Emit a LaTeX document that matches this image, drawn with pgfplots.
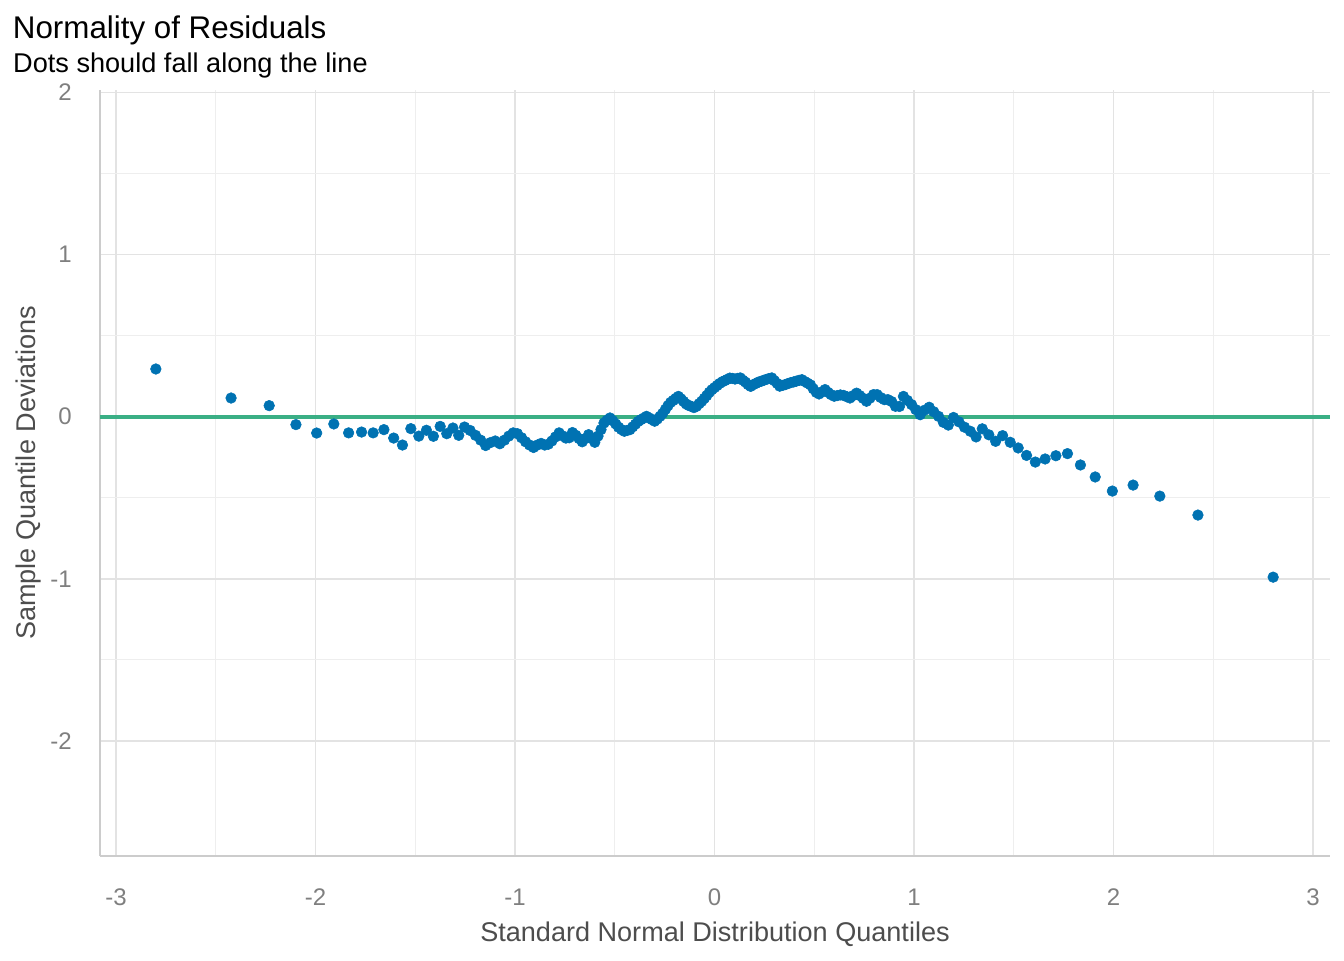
\documentclass[border=0pt]{standalone}
\usepackage{fontspec}
\setmainfont{Liberation Sans}
\usepackage{pgfplots}
\pgfplotsset{compat=1.18}
\definecolor{dotblue}{HTML}{0072B2}
\definecolor{refgreen}{HTML}{3AAF85}
\definecolor{gridmaj}{HTML}{E3E3E3}
\definecolor{gridmin}{HTML}{EEEEEE}
\definecolor{axline}{HTML}{CCCCCC}
\definecolor{ticktext}{HTML}{7F7F7F}
\definecolor{labtext}{HTML}{4D4D4D}
\begin{document}
\begin{tikzpicture}
\useasboundingbox (-75pt,-78pt) rectangle (933pt,642pt);
\begin{axis}[
  scale only axis,
  width=922.5pt, height=574.5pt,
  xmin=-3.08, xmax=3.085,
  ymin=-2.71, ymax=2.015,
  xtick={-3,-2,-1,0,1,2,3},
  xticklabels={-3,-2,-1,0,1,2,3},
  ytick={-2,-1,0,1,2},
  yticklabels={-2,-1,0,1,2},
  minor tick num=1,
  grid=both,
  major grid style={draw=gridmaj, line width=1.1pt},
  minor grid style={draw=gridmin, line width=0.6pt},
  major tick length=0pt, minor tick length=0pt,
  tick style={draw=none},
  axis x line*=bottom, axis y line*=left,
  axis line style={draw=axline, line width=1.1pt, -},
  xticklabel style={font=\fontsize{18}{21}\selectfont, text=ticktext, anchor=base, inner sep=0pt, yshift=-36.75pt},
  yticklabel style={font=\fontsize{18}{21}\selectfont, text=ticktext, anchor=east, inner sep=0pt, xshift=-21pt},
  clip=false,
]
\addplot[refgreen, line width=2.8pt, no marks] coordinates {(-3.08,0) (3.085,0)};
\addplot[only marks, mark=*, mark size=4pt, mark options={draw=dotblue, fill=dotblue}] table[x=x, y=y] {
x y
-2.800 0.294
-2.423 0.115
-2.232 0.068
-2.098 -0.049
-1.994 -0.101
-1.908 -0.045
-1.834 -0.100
-1.769 -0.095
-1.711 -0.100
-1.657 -0.080
-1.608 -0.132
-1.564 -0.175
-1.522 -0.074
-1.482 -0.120
-1.444 -0.084
-1.409 -0.121
-1.375 -0.060
-1.342 -0.105
-1.311 -0.070
-1.282 -0.115
-1.253 -0.064
-1.225 -0.085
-1.198 -0.115
-1.172 -0.145
-1.147 -0.178
-1.123 -0.160
-1.099 -0.150
-1.076 -0.167
-1.053 -0.145
-1.031 -0.120
-1.009 -0.100
-0.988 -0.105
-0.967 -0.130
-0.947 -0.155
-0.927 -0.175
-0.907 -0.190
-0.888 -0.175
-0.869 -0.165
-0.851 -0.175
-0.833 -0.170
-0.815 -0.150
-0.797 -0.125
-0.779 -0.100
-0.762 -0.118
-0.745 -0.132
-0.728 -0.130
-0.712 -0.098
-0.695 -0.115
-0.679 -0.135
-0.663 -0.155
-0.647 -0.135
-0.631 -0.111
-0.615 -0.135
-0.600 -0.158
-0.584 -0.120
-0.569 -0.080
-0.554 -0.039
-0.539 -0.022
-0.524 -0.008
-0.510 -0.025
-0.495 -0.045
-0.481 -0.065
-0.466 -0.080
-0.452 -0.090
-0.438 -0.085
-0.424 -0.080
-0.410 -0.063
-0.396 -0.046
-0.382 -0.029
-0.368 -0.018
-0.355 -0.009
-0.341 0.002
-0.327 -0.008
-0.314 -0.018
-0.300 -0.028
-0.287 -0.015
-0.273 0.002
-0.260 0.020
-0.246 0.045
-0.233 0.068
-0.220 0.088
-0.207 0.100
-0.194 0.113
-0.181 0.125
-0.168 0.110
-0.155 0.094
-0.142 0.078
-0.129 0.069
-0.116 0.063
-0.103 0.056
-0.090 0.064
-0.077 0.080
-0.064 0.095
-0.051 0.113
-0.039 0.130
-0.026 0.150
-0.013 0.166
0.000 0.179
0.013 0.192
0.026 0.205
0.039 0.215
0.051 0.222
0.064 0.230
0.077 0.238
0.090 0.236
0.103 0.232
0.116 0.236
0.129 0.239
0.142 0.225
0.155 0.213
0.168 0.198
0.181 0.187
0.194 0.197
0.207 0.205
0.220 0.213
0.233 0.218
0.246 0.224
0.260 0.230
0.273 0.235
0.287 0.239
0.300 0.222
0.314 0.205
0.327 0.188
0.341 0.193
0.355 0.198
0.368 0.204
0.382 0.210
0.396 0.214
0.410 0.219
0.424 0.224
0.438 0.228
0.452 0.217
0.466 0.207
0.481 0.196
0.495 0.172
0.510 0.150
0.524 0.140
0.539 0.153
0.554 0.167
0.569 0.150
0.584 0.136
0.600 0.126
0.615 0.130
0.631 0.134
0.647 0.131
0.663 0.123
0.679 0.115
0.695 0.130
0.712 0.145
0.728 0.130
0.745 0.113
0.762 0.095
0.779 0.114
0.797 0.136
0.815 0.136
0.833 0.118
0.851 0.105
0.869 0.105
0.888 0.093
0.907 0.064
0.927 0.063
0.947 0.125
0.967 0.100
0.988 0.074
1.009 0.043
1.031 0.012
1.053 0.040
1.076 0.058
1.099 0.030
1.123 0.002
1.147 -0.035
1.172 -0.052
1.198 -0.005
1.225 -0.032
1.253 -0.065
1.282 -0.090
1.311 -0.125
1.342 -0.075
1.375 -0.112
1.409 -0.152
1.444 -0.117
1.482 -0.158
1.522 -0.193
1.564 -0.239
1.608 -0.280
1.657 -0.261
1.711 -0.241
1.769 -0.228
1.834 -0.298
1.908 -0.372
1.994 -0.459
2.098 -0.422
2.232 -0.490
2.423 -0.607
2.800 -0.990
};
\end{axis}
\node[anchor=base west, inner sep=0pt, font=\fontsize{23.5}{28}\selectfont] at (-65.5pt,612.75pt) {Normality of Residuals};
\node[anchor=base west, inner sep=0pt, font=\fontsize{20.35}{24}\selectfont] at (-65.3pt,587.25pt) {Dots should fall along the line};
\node[anchor=base, inner sep=0pt, text=labtext, font=\fontsize{20.3}{24}\selectfont] at (461.25pt,-63.75pt) {Standard Normal Distribution Quantiles};
\node[anchor=base, rotate=90, inner sep=0pt, text=labtext, font=\fontsize{20.3}{24}\selectfont] at (-48.5pt,287.25pt) {Sample Quantile Deviations};
\end{tikzpicture}
\end{document}
